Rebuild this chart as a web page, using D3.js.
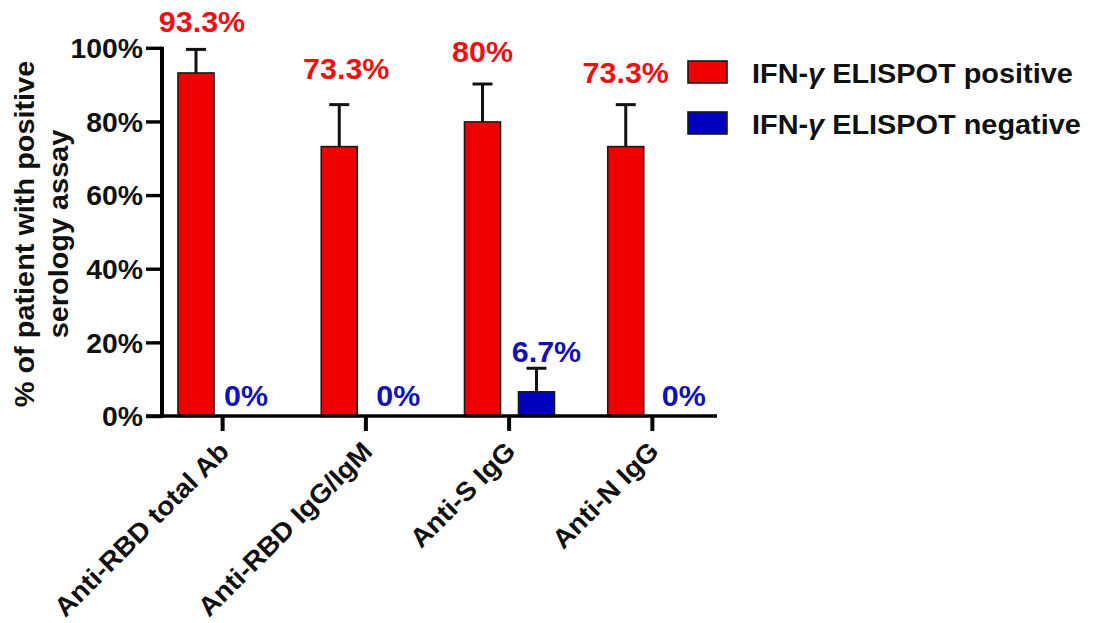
<!DOCTYPE html>
<html>
<head>
<meta charset="utf-8">
<script src="https://cdn.jsdelivr.net/npm/d3@7"></script>
<style>
  html, body { margin: 0; padding: 0; background: #fff; }
  svg { display: block; }
  text { font-family: "Liberation Sans", Arial, Helvetica, sans-serif; font-weight: bold; }
</style>
</head>
<body>
<svg id="chart" width="1102" height="623"></svg>
<script>
// Serology positivity by IFN-γ ELISPOT status
const categories = ["Anti-RBD total Ab", "Anti-RBD IgG/IgM", "Anti-S IgG", "Anti-N IgG"];
const seriesNames = ["IFN-γ ELISPOT positive", "IFN-γ ELISPOT negative"];
const positivePct = [93.3, 73.3, 80, 73.3];
const negativePct = [0, 0, 6.7, 0];
const positiveErr = [6.4, 11.4, 10.3, 11.4];
const negativeErr = [0, 0, 6.4, 0];
const yTicks = [0, 20, 40, 60, 80, 100];
const yTitleLines = ["% of patient with positive", "serology assay"];

const fills = ["#ee0000", "#0000bf"];
const labelColors = ["#ee1111", "#1212b4"];
const STRETCH = 1.05;        // slightly wide-set lettering
const FONT = 27.5;

// label placement tweaks per [category][series]: [dx, lift above bar/error top]
const labelNudge = [
  [[6, 17], [-4, 11]],
  [[7, 26], [5, 11]],
  [[0, 22], [10, 6]],
  [[0, 22], [4, 11]]
];

const svg = d3.select("#chart");
svg.append("rect").attr("width", 1102).attr("height", 623).attr("fill", "#fff");

const axisX = 162, axisBottom = 416;
const y = d3.scaleLinear().domain([0, 100]).range([416.5, 48.3]);
const x0 = d3.scaleBand().domain(categories).range([151, 724]).paddingInner(0).paddingOuter(0);
const x1 = d3.scaleBand().domain(seriesNames).range([27, 117]).paddingInner(1 / 3);

const rows = categories.map((c, i) => ({
  cat: c, i,
  bars: [
    { s: seriesNames[0], k: 0, v: positivePct[i], e: positiveErr[i] },
    { s: seriesNames[1], k: 1, v: negativePct[i], e: negativeErr[i] }
  ]
}));

function stretchText(sel, tx, ty, rot) {
  sel.attr("x", 0).attr("y", 0)
     .attr("transform", `translate(${tx},${ty}) rotate(${rot || 0}) scale(${STRETCH},1)`);
  return sel;
}

// bars
const groups = svg.append("g").selectAll("g").data(rows).join("g")
  .attr("transform", d => `translate(${x0(d.cat)},0)`);

groups.selectAll("rect.bar").data(d => d.bars.filter(b => b.v > 0)).join("rect")
  .attr("class", "bar")
  .attr("x", b => x1(b.s))
  .attr("width", x1.bandwidth())
  .attr("y", b => y(b.v))
  .attr("height", b => y(0) - y(b.v))
  .attr("fill", b => fills[b.k])
  .attr("stroke", "#1a1a1a")
  .attr("stroke-width", 1.6);

// error bars (upper only)
groups.each(function (d) {
  const g = d3.select(this);
  d.bars.filter(b => b.e > 0).forEach(b => {
    const cx = x1(b.s) + x1.bandwidth() / 2;
    g.append("line").attr("x1", cx).attr("x2", cx)
      .attr("y1", y(b.v)).attr("y2", y(b.v + b.e))
      .attr("stroke", "#111").attr("stroke-width", 3);
    g.append("line").attr("x1", cx - 10).attr("x2", cx + 10)
      .attr("y1", y(b.v + b.e)).attr("y2", y(b.v + b.e))
      .attr("stroke", "#111").attr("stroke-width", 3);
  });
});

// value labels
groups.each(function (d) {
  const g = d3.select(this);
  d.bars.forEach(b => {
    const cx = x1(b.s) + x1.bandwidth() / 2;
    const [dx, lift] = labelNudge[d.i][b.k];
    g.append("text")
      .attr("text-anchor", "middle")
      .attr("font-size", 29)
      .attr("fill", labelColors[b.k])
      .text(`${b.v}%`)
      .call(stretchText, cx + dx, y(b.v + b.e) - lift);
  });
});

// y axis
const yAxis = svg.append("g");
yAxis.append("line").attr("x1", axisX).attr("x2", axisX)
  .attr("y1", y(100) - 1.5).attr("y2", axisBottom + 1.5)
  .attr("stroke", "#000").attr("stroke-width", 4);
yAxis.selectAll("line.tick").data(yTicks).join("line")
  .attr("class", "tick")
  .attr("x1", 146).attr("x2", axisX)
  .attr("y1", d => y(d)).attr("y2", d => y(d))
  .attr("stroke", "#000").attr("stroke-width", 3.4);
yAxis.selectAll("text").data(yTicks).join("text")
  .attr("text-anchor", "end")
  .attr("font-size", 27)
  .attr("dy", "0.36em")
  .attr("fill", "#111")
  .text(d => `${d}%`)
  .each(function (d) { stretchText(d3.select(this), 143, y(d)); });

// x axis
const xAxis = svg.append("g");
xAxis.append("line").attr("x1", 146).attr("x2", 717)
  .attr("y1", axisBottom).attr("y2", axisBottom)
  .attr("stroke", "#000").attr("stroke-width", 3.6);
xAxis.selectAll("line.tick").data(categories).join("line")
  .attr("class", "tick")
  .attr("x1", d => x0(d) + x0.bandwidth() / 2).attr("x2", d => x0(d) + x0.bandwidth() / 2)
  .attr("y1", axisBottom).attr("y2", 431)
  .attr("stroke", "#000").attr("stroke-width", 4);
xAxis.selectAll("text").data(categories).join("text")
  .attr("text-anchor", "end")
  .attr("font-size", 26.5)
  .attr("fill", "#111")
  .text(d => d)
  .each(function (d) { stretchText(d3.select(this), x0(d) + x0.bandwidth() / 2 + 8, 453, -45); });

// y title
svg.append("g").selectAll("text").data(yTitleLines).join("text")
  .attr("text-anchor", "middle")
  .attr("font-size", FONT)
  .attr("fill", "#111")
  .text(d => d)
  .each(function (d, i) { stretchText(d3.select(this), 34 + i * 34, 234, -90); });

// legend
const legend = svg.append("g").selectAll("g").data(seriesNames).join("g")
  .attr("transform", (d, i) => `translate(688,${61 + i * 51})`);
legend.append("rect")
  .attr("width", 39).attr("height", 22)
  .attr("fill", (d, i) => fills[i])
  .attr("stroke", "#1a1a1a").attr("stroke-width", 1.6);
legend.each(function (d) {
  const t = d3.select(this).append("text")
    .attr("font-size", FONT).attr("fill", "#111");
  const parts = d.split("γ");
  t.append("tspan").text(parts[0]);
  t.append("tspan").attr("font-style", "italic").text("γ");
  t.append("tspan").text(parts[1]);
  stretchText(t, 64, 22);
});
</script>
</body>
</html>
